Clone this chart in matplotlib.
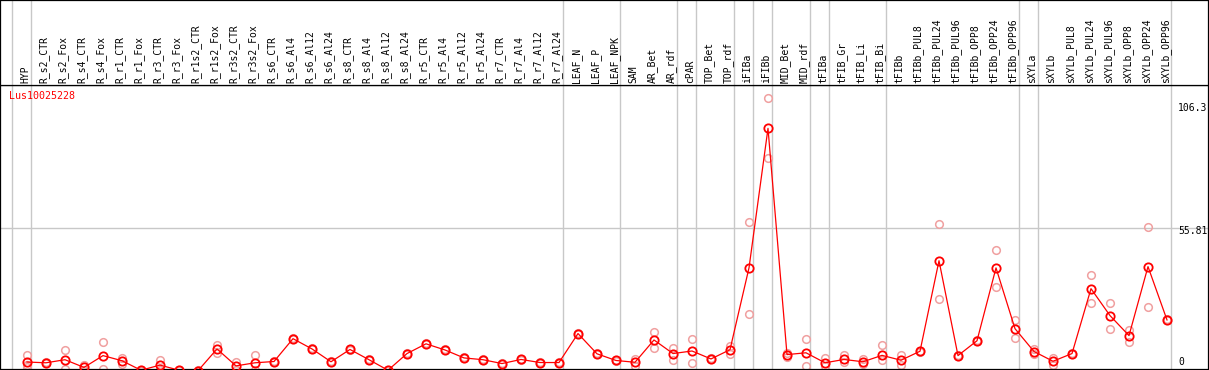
import matplotlib
matplotlib.use("Agg")
import matplotlib.pyplot as plt
import numpy as np

nan = np.nan
gene = "Lus10025228"
samples = ["HYP", "R_s2_CTR", "R_s2_Fox", "R_s4_CTR", "R_s4_Fox", "R_r1_CTR", "R_r1_Fox",
           "R_r3_CTR", "R_r3_Fox", "R_r1s2_CTR", "R_r1s2_Fox", "R_r3s2_CTR", "R_r3s2_Fox",
           "R_s6_CTR", "R_s6_Al4", "R_s6_Al12", "R_s6_Al24", "R_s8_CTR", "R_s8_Al4",
           "R_s8_Al12", "R_s8_Al24", "R_r5_CTR", "R_r5_Al4", "R_r5_Al12", "R_r5_Al24",
           "R_r7_CTR", "R_r7_Al4", "R_r7_Al12", "R_r7_Al24", "LEAF_N", "LEAF_P", "LEAF_NPK",
           "SAM", "AR_Bet", "AR_rdf", "cPAR", "TOP_Bet", "TOP_rdf", "iFIBa", "iFIBb",
           "MID_Bet", "MID_rdf", "tFIBa", "tFIB_Gr", "tFIB_Li", "tFIB_Bi", "tFIBb",
           "tFIBb_PUL8", "tFIBb_PUL24", "tFIBb_PUL96", "tFIBb_OPP8", "tFIBb_OPP24",
           "tFIBb_OPP96", "sXYLa", "sXYLb", "sXYLb_PUL8", "sXYLb_PUL24", "sXYLb_PUL96",
           "sXYLb_OPP8", "sXYLb_OPP24", "sXYLb_OPP96"]
mean_expr = [3.5, 3.2, 4.4, 1.4, 6.0, 4.0, 0.3, 2.3, 0.3, 0.1, 8.6, 2.0, 3.2,
             3.7, 12.6, 8.6, 3.6, 8.4, 4.4, 0.3, 6.8, 10.6, 8.2, 5.1, 4.4,
             2.9, 4.5, 3.3, 3.3, 14.6, 6.7, 4.1,
             3.4, 12.1, 6.8, 7.8, 4.7, 8.3, 40.2, 94.6,
             6.4, 7.1, 3.2, 4.5, 3.6, 6.1, 4.2,
             7.7, 43.0, 6.0, 11.8, 40.2, 16.5,
             7.6, 3.8, 6.8, 32.1, 21.6, 13.8, 40.7, 19.9]
rep1 = [6.4, 3.0, 8.2, 2.3, 11.4, 5.1, 0.5, 4.1, 0.4, 0.2, 10.0, 3.7, 6.1,
        3.5, 12.3, 8.4, 3.4, 8.2, 4.2, 0.3, 6.6, 10.4, 8.0, 4.9, 4.2,
        2.7, 4.3, 3.1, 3.1, 14.4, 6.5, 3.9,
        4.7, 15.3, 8.8, 12.6, 4.5, 9.9, 58.1, 106.3,
        7.1, 12.6, 5.1, 6.4, 4.5, 10.3, 6.4,
        7.5, 57.3, 5.8, 11.6, 47.2, 20.0,
        8.4, 4.9, 6.6, 37.5, 26.5, 15.9, 56.1, 19.7]
rep2 = [2.5, 3.4, 0.6, 0.5, 0.6, 2.9, 0.1, 0.5, 0.2, 0.1, 7.1, 0.3, 0.3,
        3.9, 12.9, 8.8, 3.8, 8.6, 4.6, 0.3, 7.0, 10.8, 8.4, 5.3, 4.6,
        3.1, 4.7, 3.5, 3.5, 14.8, 6.9, 4.3,
        2.1, 8.9, 4.2, 3.0, 4.9, 6.8, 22.3, 83.0,
        5.4, 2.1, 1.9, 3.4, 2.7, 4.2, 2.3,
        7.9, 28.1, 6.2, 12.0, 32.8, 12.9,
        6.8, 2.5, 7.0, 26.5, 16.4, 11.2, 25.0, 20.1]
rep3 = [1.6] + [nan] * 60
group_ends = [-1, 0, 28, 31, 34, 35, 37, 38, 39, 41, 42, 45, 52, 53, 60]
y_marks = [106.3, 55.81, 0]
y_mark_shift = [-10, -3, 9.5]

W, H, HEAD = 1209, 370, 85
fig = plt.figure(figsize=(W / 100, H / 100), dpi=100)
ax = fig.add_axes([0, 1 / H, 1208 / W, (H - HEAD - 1) / H])
hx = fig.add_axes([0, (H - HEAD) / H, 1208 / W, HEAD / H], sharex=ax)

x = np.arange(len(samples))
mono = "DejaVu Sans Mono"
grey = "#c8c8c8"

for a in (ax, hx):
    for e in group_ends:
        a.axvline(e + 0.19, color=grey, lw=1.0, zorder=1)
    for s in a.spines.values():
        s.set_color("black")
        s.set_linewidth(0.9)
    a.set_xticks([])
    a.set_yticks([])

ax.axhline(55.81, color=grey, lw=1.0, zorder=1)
for r in (rep1, rep2, rep3):
    ax.plot(x, r, ls="none", marker="o", ms=5.5, mfc="none", mec="#f0a0a0", mew=1.1, zorder=2)
ax.plot(x, mean_expr, color="red", lw=0.9, marker="o", ms=6, mfc="none", mec="red",
        mew=1.3, zorder=3)

ax.set_xlim(-27 / 19, (1208 - 27) / 19)
ax.set_ylim(0.78, 111.5)
hx.set_ylim(0, 1)

for i, s in enumerate(samples):
    hx.text(i - 0.09, 0.02, s, rotation=90, ha="center", va="bottom",
            fontsize=7, family=mono)

ax.text(9 / 1208, 0.978, gene, transform=ax.transAxes, color="red",
        fontsize=7.2, family=mono, va="top", ha="left")

for v, dy in zip(y_marks, y_mark_shift):
    ax.annotate(f"{v:g}", xy=(1178 / 1208, v), xycoords=("axes fraction", "data"),
                xytext=(0, dy), textcoords="offset pixels", fontsize=7, family=mono,
                va="center", ha="left", annotation_clip=False)

fig.savefig("out.png", dpi=100)
